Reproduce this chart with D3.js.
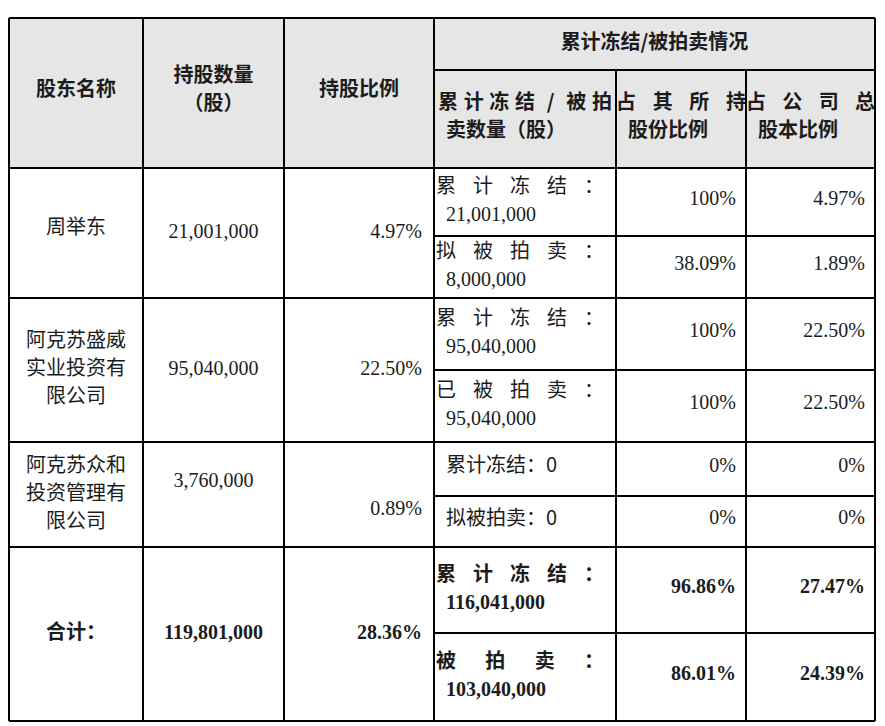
<!DOCTYPE html>
<html><head><meta charset="utf-8">
<script src="https://cdn.jsdelivr.net/npm/d3@7"></script>
<style>body{margin:0;background:#fff}</style>
</head><body>
<script>
// table data
const holders = [["周举东"], ["阿克苏盛威", "实业投资有", "限公司"], ["阿克苏众和", "投资管理有", "限公司"], ["合计："]];
const shares = ["21,001,000", "95,040,000", "3,760,000", "119,801,000"];
const ratios = ["4.97%", "22.50%", "0.89%", "28.36%"];
const details = [
  [["累计冻结：", "21,001,000"], ["拟被拍卖：", "8,000,000"]],
  [["累计冻结：", "95,040,000"], ["已被拍卖：", "95,040,000"]],
  [["累计冻结：0"], ["拟被拍卖：0"]],
  [["累计冻结：", "116,041,000"], ["被拍卖：", "103,040,000"]]
];
const ofHeld = [["100%", "38.09%"], ["100%", "100%"], ["0%", "0%"], ["96.86%", "86.01%"]];
const ofTotal = [["4.97%", "1.89%"], ["22.50%", "22.50%"], ["0%", "0%"], ["27.47%", "24.39%"]];

const colX = [9, 143, 284, 434, 616, 746, 875];
const rowY = [18, 168, 298, 442, 547, 721];
const splitY = [236, 370, 496, 633];
const subHeadY = 70;

const svg = d3.select("body").append("svg").attr("width", 885).attr("height", 726);
const cjk = "'Noto Sans CJK SC', sans-serif";
const serif = "'Liberation Serif', 'Noto Sans CJK SC', serif";
const ink = "#1c1c1c";

svg.append("rect").attr("x", colX[0]).attr("y", rowY[0])
  .attr("width", colX[6] - colX[0]).attr("height", rowY[1] - rowY[0]).attr("fill", "#e6e6e6");

function text(x, y, s, opt = {}) {
  return svg.append("text").attr("x", x).attr("y", y).text(s)
    .attr("font-family", opt.font || serif).attr("font-size", opt.size || 20)
    .attr("font-weight", opt.bold ? "bold" : "normal")
    .attr("text-anchor", opt.anchor || "start").attr("dominant-baseline", "middle")
    .attr("fill", ink);
}
// spread characters across a width (justified text)
function spread(x0, x1, y, s, bold) {
  const chars = Array.from(s);
  const xs = d3.scalePoint().domain(d3.range(chars.length)).range([x0 + 10, x1 - 10]);
  chars.forEach((c, i) => text(xs(i), y, c, {font: cjk, anchor: "middle", bold}));
}

// header
const hb = {font: cjk, bold: true, anchor: "middle"};
text((colX[0] + colX[1]) / 2, 91, "股东名称", hb);
text((colX[1] + colX[2]) / 2, 77, "持股数量", hb);
text((colX[1] + colX[2]) / 2, 105, "（股）", hb);
text((colX[2] + colX[3]) / 2, 91, "持股比例", hb);
text((colX[3] + colX[6]) / 2, 44, "累计冻结/被拍卖情况", hb);
spread(colX[3] + 4, colX[4] - 4, 104, "累计冻结/被拍", true);
text(colX[3] + 12, 132, "卖数量（股）", {font: cjk, bold: true});
spread(colX[4], colX[5], 104, "占其所持", true);
text(colX[4] + 12, 132, "股份比例", {font: cjk, bold: true});
spread(colX[5], colX[6], 104, "占公司总", true);
text(colX[5] + 12, 132, "股本比例", {font: cjk, bold: true});

// body rows
holders.forEach((h, i) => {
  const y0 = rowY[i + 1], y1 = rowY[i + 2], ym = splitY[i];
  const bold = i === 3;
  const mid = (y0 + y1) / 2;
  h.forEach((s, k) => text((colX[0] + colX[1]) / 2, mid + (k - (h.length - 1) / 2) * 28 - (h.length === 1 && !bold ? 4 : 0), s, {font: cjk, anchor: "middle", bold}));
  text((colX[1] + colX[2]) / 2, mid + (i === 2 ? -12 : 0), shares[i], {anchor: "middle", bold});
  text(colX[3] - 12, mid + (i === 2 ? 16 : 0), ratios[i], {anchor: "end", bold});
  [[y0, ym], [ym, y1]].forEach(([a, b], j) => {
    const d = details[i][j], c = (a + b) / 2;
    if (d.length === 1) {
      text(colX[3] + 12, c - 2, d[0], {font: cjk});
    } else {
      spread(colX[3] + 2, colX[4] - 12, c - 14, d[0], bold);
      text(colX[3] + 12, c + 14, d[1], {bold});
    }
    text(colX[5] - 10, c - 2, ofHeld[i][j], {anchor: "end", bold});
    text(colX[6] - 10, c - 2, ofTotal[i][j], {anchor: "end", bold});
  });
});

// grid lines
const line = (x1, y1, x2, y2) => svg.append("line").attr("x1", x1).attr("y1", y1).attr("x2", x2).attr("y2", y2)
  .attr("stroke", "#000").attr("stroke-width", 2);
colX.forEach(x => line(x, rowY[0], x, rowY[5]));
line(colX[4], rowY[0], colX[4], subHeadY); // hide below
rowY.forEach(y => line(colX[0], y, colX[6], y));
line(colX[3], subHeadY, colX[6], subHeadY);
splitY.forEach(y => line(colX[3], y, colX[6], y));
// header merged cell: cover inner verticals above subheader
svg.append("rect").attr("x", colX[3] + 1).attr("y", rowY[0] + 1).attr("width", colX[6] - colX[3] - 2)
  .attr("height", subHeadY - rowY[0] - 2).attr("fill", "#e6e6e6").lower();
svg.selectAll("line").filter(function() {
  const s = d3.select(this);
  return (+s.attr("x1") === colX[4] || +s.attr("x1") === colX[5]) && +s.attr("x1") === +s.attr("x2");
}).remove();
[colX[4], colX[5]].forEach(x => line(x, subHeadY, x, rowY[5]));
svg.select("rect").lower();
</script>
</body></html>
